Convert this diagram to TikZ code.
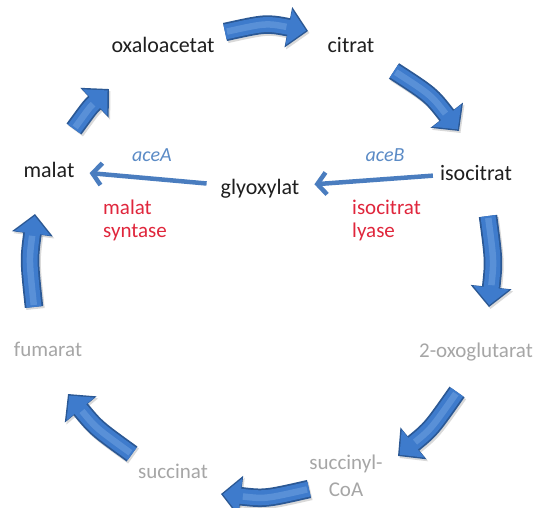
\documentclass[tikz,border=0pt]{standalone}
\usepackage{fontspec}
\setmainfont{Carlito}
\usetikzlibrary{arrows.meta}

\definecolor{textblack}{HTML}{1F1F1F}
\definecolor{textgrey}{HTML}{A6A6A6}
\definecolor{enzred}{HTML}{E0263C}
\definecolor{geneblue}{HTML}{5B8BC6}
\definecolor{linkblue}{HTML}{4A7DBF}
\definecolor{arrowdark}{HTML}{2B5894}
\definecolor{arrowmid}{HTML}{3E7BCC}
\definecolor{arrowshine}{HTML}{8DB9EC}

\tikzset{
  metab/.style={font=\fontsize{22}{26}\selectfont, text=textblack, inner sep=0pt, anchor=base},
  faded/.style={metab, font=\fontsize{21}{26}\selectfont, text=textgrey},
  gene/.style={font=\fontsize{20}{24}\selectfont\itshape, text=geneblue, inner sep=0pt, anchor=base},
  enzyme/.style={font=\fontsize{21}{26}\selectfont, text=enzred, inner sep=0pt, anchor=base west},
  geneline/.style={line width=4.5pt, draw=linkblue, -{Straight Barb[length=9pt,width=22pt]}},
  arrowshadow/.style={line width=18.5pt, draw=black, opacity=0.15,
    -{Triangle[width=40pt,length=20pt]}, transform canvas={xshift=1.5pt,yshift=-2pt}},
  arrowouter/.style={line width=18.5pt, draw=arrowdark, -{Triangle[width=40pt,length=20pt]}},
  arrowinner/.style={line width=15pt, draw=arrowmid, -{Triangle[width=35pt,length=17.5pt]}, shorten >=2pt},
  arrowhl/.style={line width=6.5pt, draw=arrowshine, opacity=0.35, shorten >=22pt, shorten <=2pt},
}

% thick bevelled arrow of the cycle: tail, control point, tip
\newcommand\cyclearrow[3]{%
  \draw[arrowshadow] (#1) .. controls (#2) .. (#3);
  \draw[arrowouter]  (#1) .. controls (#2) .. (#3);
  \draw[arrowinner]  (#1) .. controls (#2) .. (#3);
  \draw[arrowhl]     (#1) .. controls (#2) .. (#3);
}

\begin{document}
\begin{tikzpicture}[x=1pt,y=-1pt]
\useasboundingbox (0,0) rectangle (543,508);
\fill[white] (0,0) rectangle (543,508);

% metabolites
\node[metab] (oxal) at (163,53) {oxaloacetat};
\node[metab] (citr) at (351,53) {citrat};
\node[metab] (isoc) at (476,180) {isocitrat};
\node[metab] (glyo) at (260,194) {glyoxylat};
\node[metab] (mala) at (49,177) {malat};
\node[faded] (oxog) at (476,357) {2-oxoglutarat};
\node[faded] (scoa1) at (346,469) {succinyl-};
\node[faded] (scoa2) at (346,496) {CoA};
\node[faded] (succ) at (173,478) {succinat};
\node[faded] (fuma) at (48,356) {fumarat};

% genes and enzymes of the glyoxylate shunt
\node[gene] (aceA) at (152,161) {aceA};
\node[gene] (aceB) at (385,161) {aceB};
\node[enzyme] (ms1) at (103,214) {malat};
\node[enzyme] (ms2) at (103,237) {syntase};
\node[enzyme] (il1) at (352,214) {isocitrat};
\node[enzyme] (il2) at (352,237) {lyase};

% shunt reactions
\draw[geneline, shorten <=7pt, shorten >=15pt] (isoc) -- (glyo);
\draw[geneline, shorten <=14pt, shorten >=15pt] (glyo) -- (mala);

% cycle reactions
\coordinate (c1a) at (74,129);  \coordinate (c1b) at (109,89);
\coordinate (c2a) at (225,32);  \coordinate (c2b) at (308,31);
\coordinate (c3a) at (394,71);  \coordinate (c3b) at (459,131);
\coordinate (c4a) at (488,216); \coordinate (c4b) at (489,307);
\coordinate (c5a) at (457,392); \coordinate (c5b) at (398,456);
\coordinate (c6a) at (309,489); \coordinate (c6b) at (221,494);
\coordinate (c7a) at (132,454); \coordinate (c7b) at (68,394);
\coordinate (c8a) at (34,307);  \coordinate (c8b) at (35,214);

\cyclearrow{c1a}{90,107}{c1b}
\cyclearrow{c2a}{266,23}{c2b}
\cyclearrow{c3a}{431,95}{c3b}
\cyclearrow{c4a}{494,261}{c4b}
\cyclearrow{c5a}{431,429}{c5b}
\cyclearrow{c6a}{265,499}{c6b}
\cyclearrow{c7a}{96,428}{c7b}
\cyclearrow{c8a}{29,260}{c8b}
\end{tikzpicture}
\end{document}
